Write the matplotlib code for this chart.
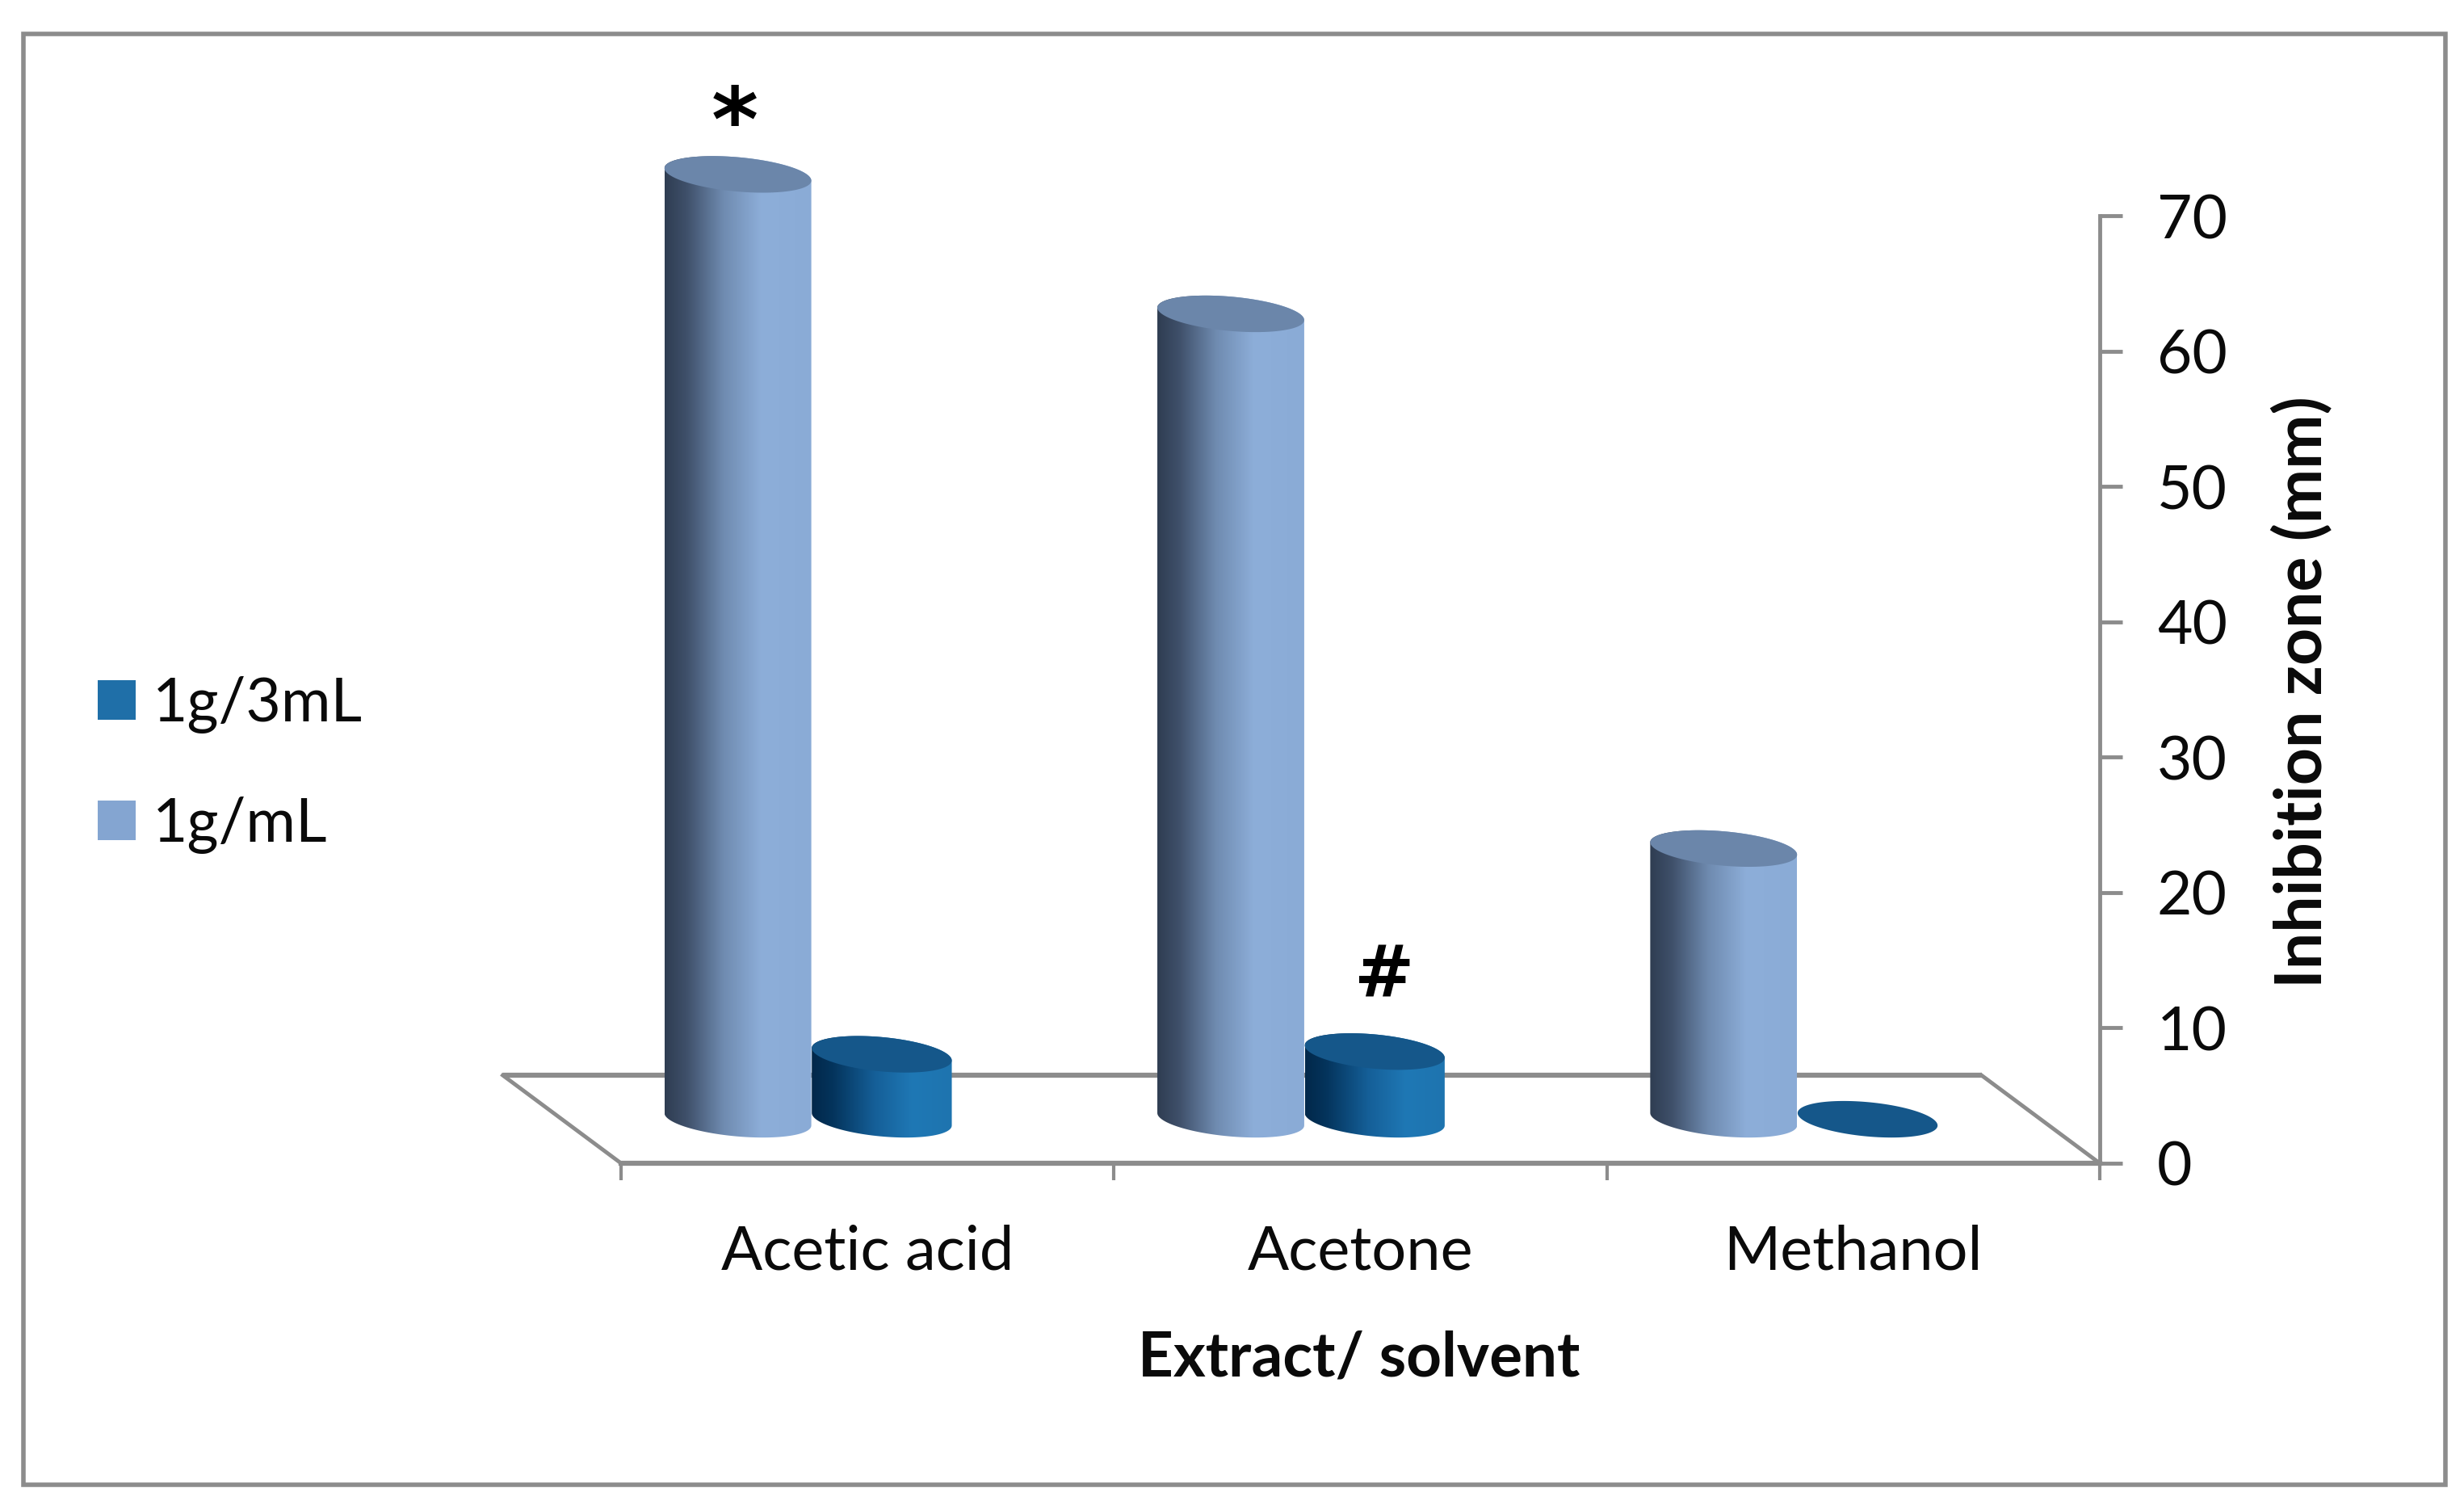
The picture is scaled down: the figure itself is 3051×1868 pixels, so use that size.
import numpy as np
import matplotlib
matplotlib.use('Agg')
import matplotlib.pyplot as plt
from matplotlib.colors import LinearSegmentedColormap
from matplotlib.patches import PathPatch, Patch, Polygon, Rectangle
from matplotlib.path import Path

categories = ['Acetic acid', 'Acetone', 'Methanol']
series_names = ['1g/3mL', '1g/mL']
values_3ml = [4.8, 5, 0]
values_1ml = [69.8, 59.5, 20]
y_ticks = [0, 10, 20, 30, 40, 50, 60, 70]
markers = ['*', '#']

W, H = 3051, 1868
GRAY = '#8c8c8c'
TEXT = '#0a0a0a'
FS = 54
plt.rcParams['font.family'] = ['Lato', 'DejaVu Sans']

fig = plt.figure(figsize=(W / 100, H / 100), dpi=100, facecolor='white')
fig.patches.append(Rectangle((29 / W, 1 - 1838 / H), 2999 / W, 1796 / H,
                             transform=fig.transFigure, facecolor='none',
                             edgecolor=GRAY, linewidth=4, zorder=-1))

ax = fig.add_axes([769 / W, 1 - 1440 / H, 1831 / W, 1173 / H])
ax.patch.set_visible(False)

# floor of the 3d chart, in data units
depth_x, depth_y = 0.24, 6.5
base_y = depth_y / 2

# dark side to light side, as excel shades a cylinder
cmap_1ml = LinearSegmentedColormap.from_list(
    'c1ml', [(0, '#2f3d52'), (0.15, '#3f506a'), (0.4, '#6f8bb0'),
             (0.66, '#8daed9'), (1, '#8aabd6')])
cmap_3ml = LinearSegmentedColormap.from_list(
    'c3ml', [(0, '#02284a'), (0.15, '#04345c'), (0.45, '#155f98'),
             (0.72, '#1f78b5'), (1, '#1e74af')])


def draw_cylinder(center, value, half_w, cmap, top_color, z):
  half_h, tilt = 1.27, 0.46
  top = base_y + value
  t_low = np.linspace(np.pi, 2 * np.pi, 60)
  t_up = np.linspace(0, np.pi, 60)
  xs = np.concatenate([center + half_w * np.cos(t_low),
                       center + half_w * np.cos(t_up)])
  ys = np.concatenate([base_y + half_h * np.sin(t_low) - tilt * np.cos(t_low),
                       top + half_h * np.sin(t_up) - tilt * np.cos(t_up)])
  if value > 0:
    outline = PathPatch(Path(np.column_stack([xs, ys]), closed=False),
                        facecolor='none', edgecolor='none',
                        transform=ax.transData, clip_on=False)
    ax.add_patch(outline)
    grad = np.linspace(0, 1, 256).reshape(1, -1)
    im = ax.imshow(grad, cmap=cmap, aspect='auto', zorder=z,
                   extent=(center - half_w, center + half_w,
                           base_y - 3, top + 3), interpolation='bilinear')
    im.set_clip_path(outline)
    im.set_clip_box(fig.bbox)
  t = np.linspace(0, 2 * np.pi, 120)
  cap = np.column_stack([center + half_w * np.cos(t),
                         top + half_h * np.sin(t) - tilt * np.cos(t)])
  ax.add_patch(Polygon(cap, closed=True, facecolor=top_color,
                       edgecolor='none', clip_on=False, zorder=z + 0.5))


# back edge and the two sides of the floor
ax.plot([-depth_x, 3 - depth_x], [depth_y, depth_y], color=GRAY, lw=4.5,
        clip_on=False, solid_capstyle='butt', zorder=2)
ax.plot([-depth_x, 0], [depth_y, 0], color=GRAY, lw=3.5, clip_on=False, zorder=2)
ax.plot([3 - depth_x, 3], [depth_y, 0], color=GRAY, lw=3.5, clip_on=False, zorder=2)

for i in range(len(categories)):
  draw_cylinder(i + 0.529, values_3ml[i], 0.142, cmap_3ml, '#15578a', 3)
  draw_cylinder(i + 0.237, values_1ml[i], 0.149, cmap_1ml, '#6b86aa', 4)

ax.set_xlim(0, 3)
ax.set_ylim(0, 70)

for side in ['left', 'top']:
  ax.spines[side].set_visible(False)
ax.spines['right'].set_color(GRAY)
ax.spines['right'].set_linewidth(3.5)
ax.spines['bottom'].set_color(GRAY)
ax.spines['bottom'].set_linewidth(4.5)

ax.yaxis.tick_right()
ax.set_yticks(y_ticks)
ax.tick_params(axis='y', length=20, width=3.5, color=GRAY, labelsize=FS,
               pad=31, labelcolor=TEXT)
ax.set_xticks(range(len(categories) + 1))
ax.set_xticklabels([])
ax.set_xticks(np.arange(len(categories)) + 0.5, minor=True)
ax.set_xticklabels(categories, minor=True, fontsize=FS + 0.5, color=TEXT)
ax.tick_params(axis='x', which='major', length=15, width=3, color=GRAY)
ax.tick_params(axis='x', which='minor', length=0, pad=54)

ax.set_xlabel('Extract/ solvent', fontsize=55, fontweight='bold', color=TEXT)
ax.xaxis.set_label_coords(0.499, -0.176)
ax.yaxis.set_label_position('right')
ax.set_ylabel('Inhibition zone (mm)', fontsize=58, fontweight='bold', color=TEXT)
ax.yaxis.set_label_coords(1.1165, 0.497)

# significance marks
ax.text(0.23, values_1ml[0] + 6.8, markers[0], fontsize=80, fontweight='bold',
        family='DejaVu Sans', ha='center', va='center', color='black', zorder=6)
ax.text(1.549, values_3ml[1] + 8.7, markers[1], fontsize=64, fontweight='bold',
        family='DejaVu Sans', ha='center', va='center', color='black', zorder=6)

handles = [Patch(facecolor='#1f6fa8', edgecolor='none'),
           Patch(facecolor='#84a5d1', edgecolor='none')]
fig.legend(handles, series_names, loc='center left', frameon=False,
           bbox_to_anchor=(121 / W, 1 - 947 / H), fontsize=FS,
           handlelength=0.63, handleheight=0.63, handletextpad=0.28,
           labelspacing=1.04, labelcolor=TEXT, borderpad=0, borderaxespad=0)

fig.savefig('out.png', dpi=100)
